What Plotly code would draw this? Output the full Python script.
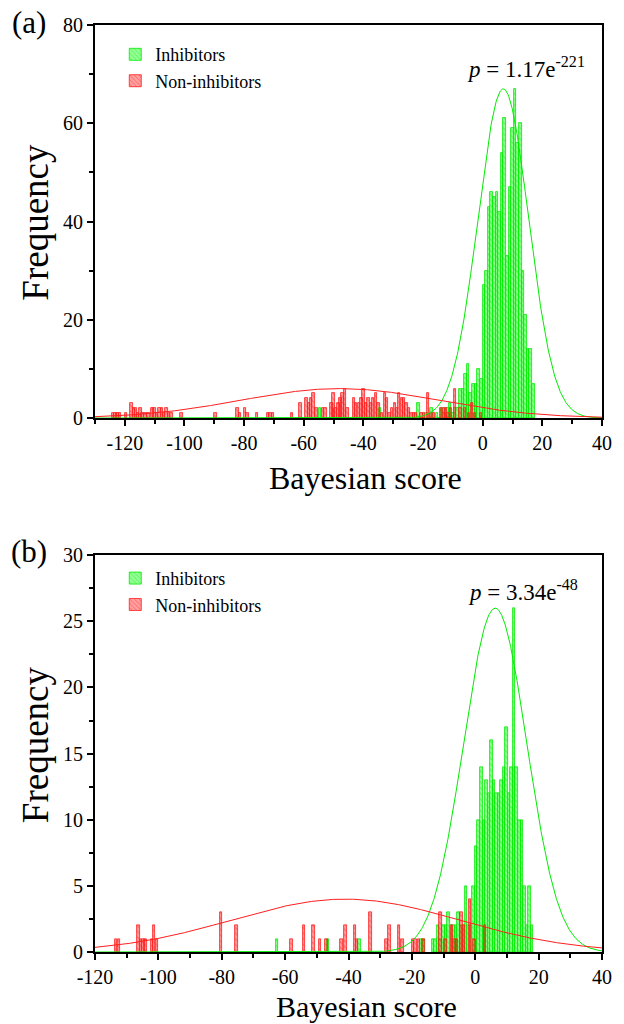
import numpy as np
import plotly.graph_objects as go
from plotly.subplots import make_subplots

FONT = "Liberation Serif, Times New Roman, serif"

# ---------------- Panel (a) data ----------------
# Inhibitors histogram: counts for consecutive bins starting at a_green_start, step a_green_step
a_green_start = -21.5
a_green_step = 0.875
a_green_counts = [3, 0, 0, 1, 0, 2, 0, 1, 0, 2, 1, 2, 3, 1, 2, 2,
                  6, 6, 9, 11, 5, 7, 7, 10, 8, 27, 30, 43, 46, 45, 46, 42,
                  54, 61, 33, 47, 59, 67, 56, 60, 30, 21, 14, 14, 7]
a_green_extra_x = [-54.5, -34.5]
a_green_extra_y = [2, 2]

# Non-inhibitors histogram (bin centres and counts)
a_red_x = [-124, -123.2, -122.4, -121.6, -119.7, -117.8, -117, -116.3, -115.5, -114.8,
           -114, -113, -112, -110.7, -110, -109.2, -108.4, -107.6, -106.8, -106,
           -105.2, -104.4, -101, -89.6, -82.2, -81.4, -79.7, -78.9, -75.6, -72,
           -71.2, -70.4, -64, -61.1, -59.1, -58.3, -57.6, -56.7, -55.8, -53.6,
           -52.7, -50.7, -50, -49.3, -48.4, -47.7, -47, -46.1, -45.4, -43.2,
           -42.4, -41.5, -40.7, -40, -39.2, -38.3, -37.5, -36.7, -35.8, -34.9,
           -33.7, -32.8, -32, -31.3, -30.4, -29.5, -28.8, -28, -27.1, -26.3,
           -25.5, -24.8, -23.9, -23, -22.3, -20.5, -19.6, -18.3, -17.4, -16.4,
           -13.9, -13, -12.3, -11.5, -10.6, -9.3, -7.4, -6, -4.6, -3.6, -2.5, -0.5]
a_red_y = [1, 1, 1, 1, 1, 3, 2, 2, 1, 2,
           1, 1, 1, 2, 2, 1, 2, 2, 1, 2,
           1, 1, 1, 1, 2, 1, 2, 1, 1, 1,
           1, 1, 1, 3, 4, 3, 4, 5, 2, 2,
           2, 3, 5, 2, 3, 4, 5, 6, 2, 4,
           3, 3, 4, 6, 3, 4, 3, 4, 5, 3,
           1, 5, 4, 1, 2, 3, 2, 5, 4, 4,
           3, 2, 1, 1, 1, 1, 1, 5, 1, 1,
           2, 2, 2, 1, 2, 6, 2, 2, 1, 3, 1, 1]

# Fitted normal curves: amplitude, mean, sigma
a_green_fit = (67, 6.9, 8.5)
a_red_fit = (6.0, -48, 33)

# ---------------- Panel (b) data ----------------
b_green_start = -13.3
b_green_step = 0.8
b_green_counts = [1, 1, 2, 1, 2, 2, 3, 2, 2, 2, 3, 2, 2, 5, 2, 2, 5, 8, 10, 14,
                  10, 13, 12, 16, 13, 12, 12, 13, 14, 17, 12, 14, 26, 14, 10, 10,
                  5, 2, 5, 2]
b_green_extra_x = [-62.5, -46.5, -36.5, -17, -16.2]
b_green_extra_y = [1, 1, 1, 1, 1]

b_red_x = [-113.4, -112.4, -106.2, -105.5, -104.7, -104, -102, -101.3, -100.5,
           -80.2, -75.3, -58, -54, -51, -49, -47, -42.2, -41, -38, -37.3, -33,
           -28, -27, -24, -23, -19.7, -18.8, -17.8, -16.3, -10.9, -9.4, -7.3,
           -6.5, -5.8, -4.3, -3.5, -1.6, -0.3, 3.1]
b_red_y = [1, 1, 2, 1, 1, 1, 1, 2, 1,
           3, 2, 1, 2, 2, 1, 1, 1, 2, 2, 1, 3,
           1, 2, 2, 1, 1, 1, 1, 1, 3, 1, 2,
           1, 1, 3, 2, 4, 1, 2]

b_green_fit = (26, 6.3, 10)
b_red_fit = (4.0, -41, 35.8)

# axis ticks
a_xticks = [-120, -100, -80, -60, -40, -20, 0, 20, 40]
a_yticks = [0, 20, 40, 60, 80]
b_xticks = [-120, -100, -80, -60, -40, -20, 0, 20, 40]
b_yticks = [0, 5, 10, 15, 20, 25, 30]

GREEN = "rgb(0,235,0)"
RED = "rgb(255,30,30)"
GREEN_BG = "rgba(0,255,0,0.42)"
RED_BG = "rgba(255,0,0,0.38)"


def gauss(params, x):
    a, m, s = params
    return a * np.exp(-(x - m) ** 2 / (2 * s ** 2))


fig = make_subplots(rows=2, cols=1, vertical_spacing=0.148)


def add_bars(x, y, width, color, bg, name, row, legend, show):
    fig.add_trace(go.Bar(
        x=x, y=y, width=width, name=name, legend=legend, showlegend=show,
        marker=dict(color=bg, line=dict(color=color, width=0.8),
                    pattern=dict(shape="\\", fgcolor=color, bgcolor=bg, size=4, solidity=0.25)),
        hoverinfo="skip"), row=row, col=1)


# panel (a)
ag_x = a_green_start + a_green_step * np.arange(len(a_green_counts))
add_bars(list(ag_x) + a_green_extra_x, a_green_counts + a_green_extra_y, a_green_step,
         GREEN, GREEN_BG, "Inhibitors", 1, "legend", True)
add_bars(a_red_x, a_red_y, 0.82, RED, RED_BG, "Non-inhibitors", 1, "legend", True)
xa = np.linspace(-130, 40, 800)
fig.add_trace(go.Scatter(x=xa, y=gauss(a_green_fit, xa), mode="lines",
                         line=dict(color=GREEN, width=1), showlegend=False, hoverinfo="skip"), row=1, col=1)
fig.add_trace(go.Scatter(x=xa, y=gauss(a_red_fit, xa), mode="lines",
                         line=dict(color=RED, width=1), showlegend=False, hoverinfo="skip"), row=1, col=1)

# panel (b)
bg_x = b_green_start + b_green_step * np.arange(len(b_green_counts))
add_bars(list(bg_x) + b_green_extra_x, b_green_counts + b_green_extra_y, b_green_step,
         GREEN, GREEN_BG, "Inhibitors", 2, "legend2", True)
add_bars(b_red_x, b_red_y, 0.78, RED, RED_BG, "Non-inhibitors", 2, "legend2", True)
xb = np.linspace(-120, 40, 800)
fig.add_trace(go.Scatter(x=xb, y=gauss(b_green_fit, xb), mode="lines",
                         line=dict(color=GREEN, width=1), showlegend=False, hoverinfo="skip"), row=2, col=1)
fig.add_trace(go.Scatter(x=xb, y=gauss(b_red_fit, xb), mode="lines",
                         line=dict(color=RED, width=1), showlegend=False, hoverinfo="skip"), row=2, col=1)

axis_common = dict(showline=True, linecolor="black", linewidth=2, mirror=True,
                   ticks="outside", ticklen=6, tickwidth=2, tickcolor="black",
                   showgrid=False, zeroline=False,
                   tickfont=dict(family=FONT, size=20, color="black"))


def fmt(v):
    return ("-" + str(-v)) if v < 0 else str(v)


def minor(dt):
    return dict(tickmode="linear", tick0=0, dtick=dt, ticks="outside", ticklen=4,
                tickwidth=2, tickcolor="black")


fig.update_xaxes(range=[-130, 40], tickmode="array", tickvals=a_xticks,
                 ticktext=[fmt(v) for v in a_xticks], minor=minor(10),
                 **axis_common, row=1, col=1)
fig.update_yaxes(range=[0, 80], tickmode="array", tickvals=a_yticks,
                 ticktext=[str(v) for v in a_yticks], minor=minor(10),
                 **axis_common, row=1, col=1)
fig.update_xaxes(range=[-120, 40], tickmode="array", tickvals=b_xticks,
                 ticktext=[fmt(v) for v in b_xticks], minor=minor(10),
                 **axis_common, row=2, col=1)
fig.update_yaxes(range=[0, 30], tickmode="array", tickvals=b_yticks,
                 ticktext=[str(v) for v in b_yticks], minor=minor(2.5),
                 **axis_common, row=2, col=1)

fig.update_layout(yaxis=dict(domain=[0.576, 1.0]), yaxis2=dict(domain=[0.0, 0.428]))


def ann(text, x, y, size, angle=0, yanchor="middle"):
    fig.add_annotation(text=text, x=x, y=y, xref="paper", yref="paper", showarrow=False,
                       textangle=angle, xanchor="center", yanchor=yanchor, borderpad=0,
                       font=dict(family=FONT, size=size, color="black"))


ann("(a)", -0.13, 1.003, 31)
ann("(b)", -0.13, 0.4315, 31)
ann("Frequency", -0.118, 0.787, 37, -90)
ann("Frequency", -0.118, 0.2233, 37, -90)
ann("Bayesian score", 0.534, 0.511, 32)
ann("Bayesian score", 0.536, -0.0772, 30, yanchor="bottom")
ann("<i>p</i> = 1.17e<sup>-221</sup>", 0.850, 0.954, 23)
ann("<i>p</i> = 3.34e<sup>-48</sup>", 0.845, 0.3905, 23)

leg = dict(font=dict(family=FONT, size=18, color="black"), bgcolor="rgba(0,0,0,0)",
           xanchor="left", yanchor="top", tracegroupgap=0, itemwidth=30)
fig.update_layout(
    width=624, height=1024,
    margin=dict(l=95, r=14, t=25, b=72),
    paper_bgcolor="white", plot_bgcolor="white",
    barmode="overlay", bargap=0,
    legend=dict(x=0.04, y=0.988, **leg),
    legend2=dict(x=0.04, y=0.423, **leg),
    font=dict(family=FONT, color="black"),
)

fig.write_html("out.html")
